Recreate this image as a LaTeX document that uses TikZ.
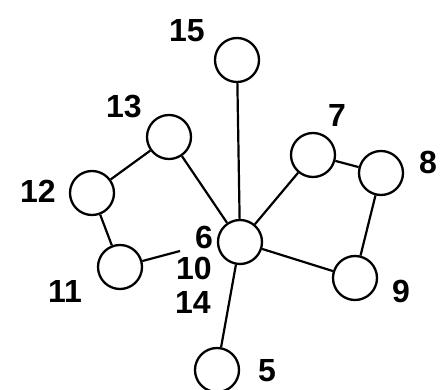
\documentclass[tikz,border=0pt]{standalone}
\usepackage{fontspec}
\setmainfont{Liberation Sans}
\begin{document}
\begin{tikzpicture}[x=1pt,y=-1pt,
  vtx/.style={circle,draw,line width=2.3pt,minimum size=44pt,inner sep=0pt},
  lbl/.style={font=\fontsize{32}{32}\selectfont\bfseries,inner sep=0pt},
  edge/.style={line width=2.2pt}]
\useasboundingbox (0,0) rectangle (440,390);
\node[vtx] (n15) at (237,60) {};
\node[vtx] (n13) at (169,137) {};
\node[vtx] (n12) at (92,193) {};
\node[vtx] (n11) at (120,267) {};
\node[vtx] (n6) at (240,242) {};
\node[vtx] (n7) at (313,155) {};
\node[vtx] (n8) at (381,173) {};
\node[vtx] (n9) at (355,278) {};
\node[vtx] (n5) at (217,370) {};
\coordinate (e10) at (180,251);
\node[lbl] (l15) at (187,31) {15};
\node[lbl] (l13) at (124,107) {13};
\node[lbl] (l12) at (38,191) {12};
\node[lbl] (l11) at (65,291) {11};
\node[lbl] (l6) at (204,237) {6};
\node[lbl] (l10) at (194,268) {10};
\node[lbl] (l14) at (193,302) {14};
\node[lbl] (l7) at (337,115) {7};
\node[lbl] (l8) at (428,162) {8};
\node[lbl] (l9) at (401,291) {9};
\node[lbl] (l5) at (267,371) {5};
\draw[edge] (n13) -- (n12);
\draw[edge] (n12) -- (n11);
\draw[edge] (n11) -- (e10);
\draw[edge] (n13) -- (n6);
\draw[edge] (n15) -- (n6);
\draw[edge] (n7) -- (n6);
\draw[edge] (n7) -- (n8);
\draw[edge] (n8) -- (n9);
\draw[edge] (n9) -- (n6);
\draw[edge] (n6) -- (n5);
\end{tikzpicture}
\end{document}
